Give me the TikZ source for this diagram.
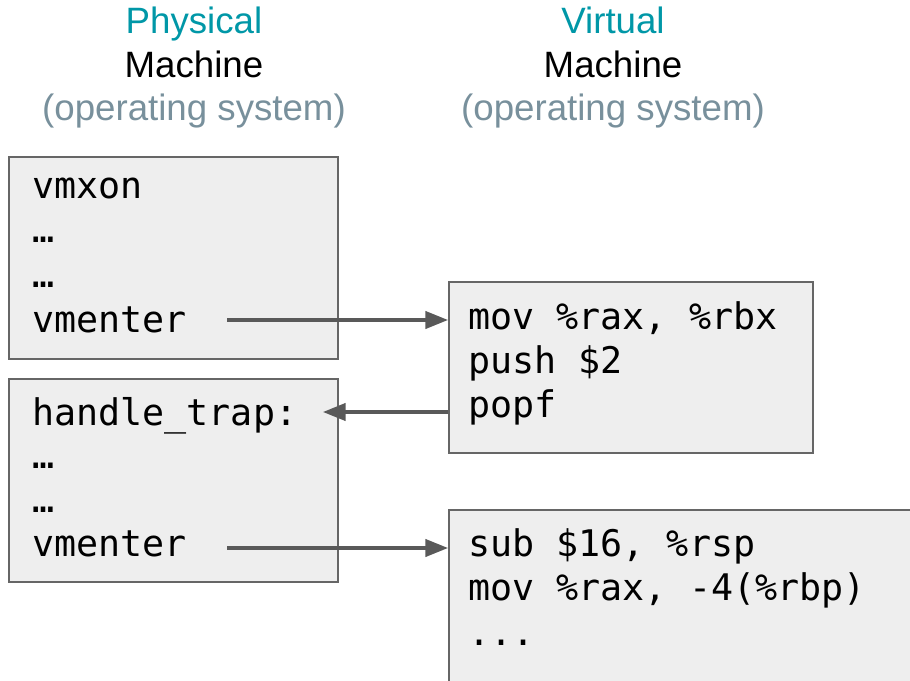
\documentclass[tikz,border=0pt]{standalone}
\usepackage{fontspec}
\setmainfont{Liberation Sans}
\setmonofont{DejaVu Sans Mono}
\usetikzlibrary{arrows.meta}
\definecolor{headteal}{HTML}{0097A7}
\definecolor{headgray}{HTML}{78909C}
\definecolor{boxfill}{HTML}{EEEEEE}
\definecolor{boxline}{HTML}{666666}
\definecolor{arrowgray}{HTML}{595959}
\tikzset{
  codebox/.style={draw=boxline, fill=boxfill, line width=1.5pt, inner sep=0pt, anchor=north west},
  code/.style={anchor=base west, inner sep=0pt, font=\fontsize{27.5}{33}\ttfamily},
  head/.style={anchor=base, inner sep=0pt, font=\fontsize{27.5}{33}\selectfont},
  jump/.style={draw=arrowgray, line width=2.4pt, -{Triangle[length=17pt,width=13pt]}}
}
\begin{document}
\begin{tikzpicture}[x=0.75pt,y=-0.75pt]
\useasboundingbox (0,0) rectangle (910,681);
\clip (0,0) rectangle (910,681);
% headings
\node[head, text=headteal] (physT) at (194,34) {Physical};
\node[head] (physM) at (194,78) {Machine};
\node[head, text=headgray] (physO) at (194,121) {(operating system)};
\node[head, text=headteal] (virtT) at (613,34) {Virtual};
\node[head] (virtM) at (613,78) {Machine};
\node[head, text=headgray] (virtO) at (613,121) {(operating system)};
% host boxes
\node[codebox, minimum width=246.75pt, minimum height=151.5pt] (hostA) at (8,156) {};
\node[codebox, minimum width=246.75pt, minimum height=152.25pt] (hostB) at (8,378) {};
\node[code] (vmxon) at (32,199) {vmxon};
\node[code] (dotsA) at (32,243) {…};
\node[code] (dotsB) at (32,287) {…};
\node[code] (enterA) at (32,332) {vmenter};
\node[code] (trap) at (32,425) {handle\_trap:};
\node[code] (dotsC) at (32,468) {…};
\node[code] (dotsD) at (32,512) {…};
\node[code] (enterB) at (32,556) {vmenter};
% guest boxes
\node[codebox, minimum width=273pt, minimum height=128.25pt] (guestA) at (448,281) {};
\node[codebox, minimum width=352.5pt, minimum height=135pt] (guestB) at (448,509) {};
\node[code] (movA) at (468,329) {mov \%rax, \%rbx};
\node[code] (push) at (468,373) {push \$2};
\node[code] (popf) at (468,417) {popf};
\node[code] (sub) at (468,556) {sub \$16, \%rsp};
\node[code] (movB) at (468,600) {mov \%rax, -4(\%rbp)};
\node[code] (more) at (468,645) {...};
% jumps
\coordinate (fromA) at (227,320);
\coordinate (toTrap) at (323,412);
\coordinate (fromB) at (227,548);
\draw[jump] (fromA) -- (fromA -| guestA.west);
\draw[jump] (toTrap -| guestA.west) -- (toTrap);
\draw[jump] (fromB) -- (fromB -| guestB.west);
\end{tikzpicture}
\end{document}
